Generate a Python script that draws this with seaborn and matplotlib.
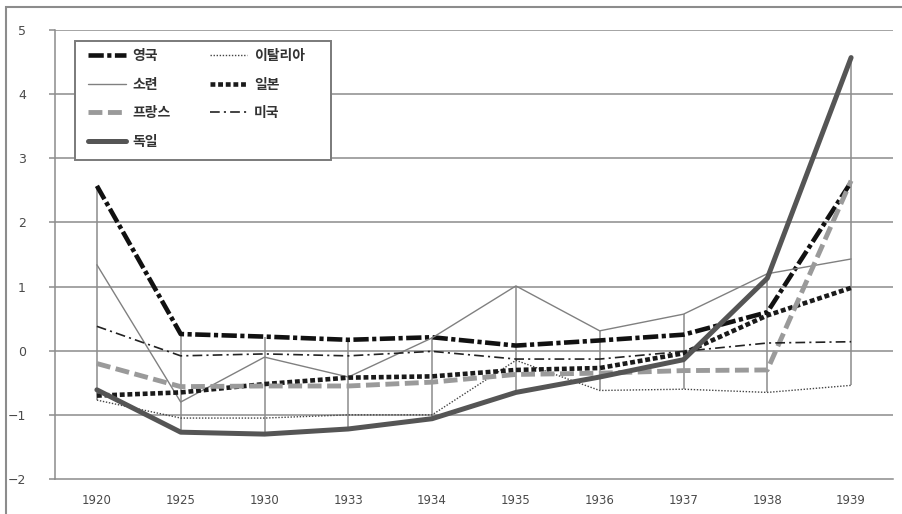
import numpy as np
import pandas as pd
import matplotlib
matplotlib.use("Agg")
import matplotlib.pyplot as plt
import matplotlib.patches as mpatches
import seaborn as sns

# Categories (years) and series values
years = ["1920", "1925", "1930", "1933", "1934", "1935", "1936", "1937", "1938", "1939"]
uk = [2.57, 0.26, 0.22, 0.17, 0.21, 0.08, 0.16, 0.25, 0.60, 2.63]
italy = [-0.77, -1.05, -1.05, -1.00, -1.00, -0.15, -0.62, -0.60, -0.65, -0.54]
ussr = [1.34, -0.80, -0.10, -0.41, 0.20, 1.01, 0.31, 0.57, 1.20, 1.43]
japan = [-0.70, -0.65, -0.52, -0.42, -0.40, -0.30, -0.27, -0.04, 0.55, 0.98]
france = [-0.20, -0.56, -0.55, -0.55, -0.49, -0.37, -0.35, -0.31, -0.30, 2.65]
usa = [0.38, -0.08, -0.05, -0.08, -0.01, -0.13, -0.13, -0.01, 0.12, 0.14]
germany = [-0.61, -1.27, -1.30, -1.22, -1.06, -0.65, -0.41, -0.14, 1.13, 4.57]

series_names = ["영국", "이탈리아", "소련", "일본", "프랑스", "미국", "독일"]
series_values = [uk, italy, ussr, japan, france, usa, germany]
legend_order = ["영국", "소련", "프랑스", "독일", "이탈리아", "일본", "미국"]
y_ticks = [-2, -1, 0, 1, 2, 3, 4, 5]

sns.set_theme(style="white")
plt.rcParams["font.family"] = ["Noto Sans CJK KR", "DejaVu Sans"]
plt.rcParams["lines.scale_dashes"] = False

df = pd.DataFrame({"year": np.tile(years, len(series_names)),
                   "country": np.repeat(series_names, len(years)),
                   "value": np.concatenate(series_values)})

styles = {
    "영국": dict(color="#111111", linewidth=3.3, linestyle=(0, (11, 2.5, 3, 2.5))),
    "이탈리아": dict(color="#444444", linewidth=1.0, linestyle=(0, (1, 1.2))),
    "소련": dict(color="#808080", linewidth=1.0, linestyle="-"),
    "일본": dict(color="#1a1a1a", linewidth=3.3, linestyle=(0, (3.5, 2))),
    "프랑스": dict(color="#9a9a9a", linewidth=3.5, linestyle=(0, (10, 4))),
    "미국": dict(color="#222222", linewidth=1.2, linestyle=(0, (7, 3, 1.5, 3))),
    "독일": dict(color="#555555", linewidth=3.6, linestyle="-"),
}

W, H = 903, 514
fig = plt.figure(figsize=(W / 100, H / 100), dpi=100)
ax = fig.add_axes([55 / W, 1 - 479 / H, 838 / W, 449 / H])

grid_c = "#8c8c8c"
ax.set_ylim(-2, 5)
ax.set_yticks(y_ticks)
for v in y_ticks[1:]:
    ax.axhline(v, color=grid_c, linewidth=1.1, zorder=0)

# High-low lines spanning all series at each year
arr = np.array(series_values)
ax.vlines(years, arr.min(axis=0), arr.max(axis=0), color=grid_c, linewidth=1.1, zorder=1)

handles = {}
for name in series_names:
    sub = df[df["country"] == name]
    sns.lineplot(data=sub, x="year", y="value", ax=ax, sort=False,
                 label=name, zorder=3, **styles[name])
    handles[name] = ax.get_lines()[-1]

ax.set_xlim(-0.5, len(years) - 0.5)
ax.set_xlabel("")
ax.set_ylabel("")

for s in ["top", "right"]:
    ax.spines[s].set_visible(False)
for s in ["left", "bottom"]:
    ax.spines[s].set_color(grid_c)
    ax.spines[s].set_linewidth(1.1)

ax.tick_params(axis="y", which="both", left=True, length=4, width=1.1, color=grid_c,
               pad=17, labelsize=9, labelcolor="#4a4a4a")
ax.tick_params(axis="x", which="both", bottom=False, length=0, pad=11,
               labelsize=8.5, labelcolor="#4a4a4a")
for lab in ax.get_xticklabels() + ax.get_yticklabels():
    lab.set_fontfamily("DejaVu Sans")

# Legend box drawn as its own rectangle; entries placed inside it
box_l, box_t, box_r, box_b = 75, 41, 331, 160
legend_box = mpatches.Rectangle((box_l / W, 1 - box_b / H), (box_r - box_l) / W,
                                (box_b - box_t) / H, transform=fig.transFigure,
                                facecolor="white", edgecolor="#7a7a7a", linewidth=1.4,
                                zorder=5)
fig.add_artist(legend_box)

leg = ax.legend([handles[n] for n in legend_order], legend_order,
                ncol=2, loc="upper left",
                bbox_to_anchor=(88 / W, 1 - 49 / H), bbox_transform=fig.transFigure,
                frameon=False, borderaxespad=0, borderpad=0,
                handlelength=2.7, handletextpad=0.5,
                columnspacing=2.8, labelspacing=1.05,
                prop={"family": ["Noto Sans CJK KR", "DejaVu Sans"], "size": 10, "weight": "bold"})
leg.set_zorder(6)
leg.remove()
fig.add_artist(leg)
for t in leg.get_texts():
    t.set_color("#333333")

# Chart-area frame
frame = mpatches.Rectangle((6.5 / W, -0.2), 1.2, 1.2 - 6.5 / H, transform=fig.transFigure,
                           fill=False, edgecolor="#8c8c8c", linewidth=1.5, clip_on=False)
fig.add_artist(frame)

fig.savefig("out.png", dpi=100)
